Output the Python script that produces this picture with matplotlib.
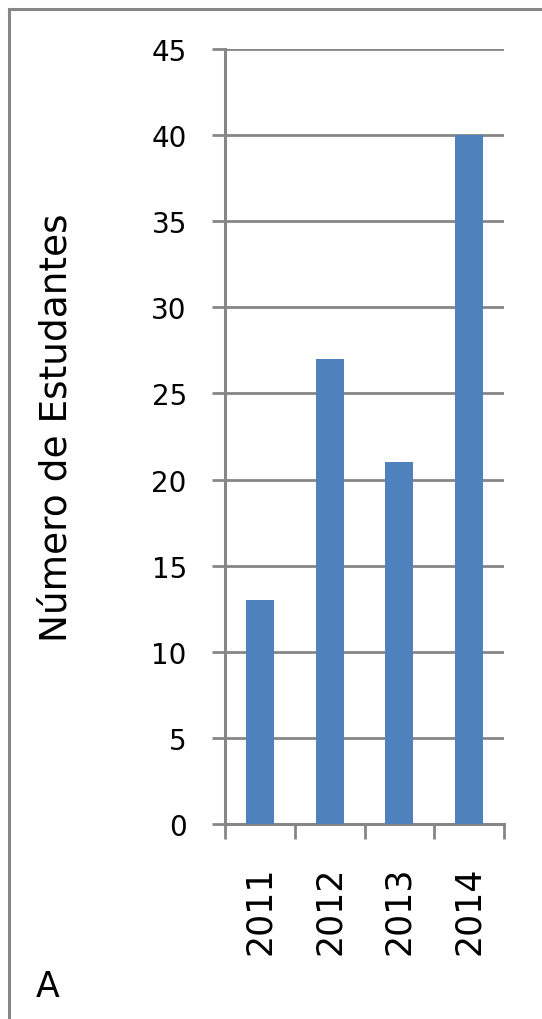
import matplotlib

matplotlib.use("Agg")
import matplotlib.pyplot as plt
from matplotlib.lines import Line2D

# data
anos = ["2011", "2012", "2013", "2014"]
estudantes = [13, 27, 21, 40]
y_ticks = [0, 5, 10, 15, 20, 25, 30, 35, 40, 45]

bar_color = "#4F81BD"
gray = "#868686"

plt.rcParams["font.family"] = ["DejaVu Sans"]

fig = plt.figure(figsize=(5.42, 10.2), dpi=100)
fig.patch.set_facecolor("white")

# plot area in pixel terms: x 225..504, y 50..825 (of 542x1020)
ax = fig.add_axes([225 / 542, 195 / 1020, 279 / 542, 775 / 1020])

x = list(range(len(anos)))
ax.bar(x, estudantes, width=0.4, color=bar_color, zorder=3)

ax.set_xlim(-0.5, len(anos) - 0.5)
ax.set_ylim(0, 45)
ax.set_yticks(y_ticks)
ax.set_yticklabels([str(v) for v in y_ticks])

# category ticks sit between the bars, labels centred under the bars
ax.set_xticks([i - 0.5 for i in range(len(anos) + 1)])
ax.set_xticklabels([])
ax.set_xticks(x, minor=True)
ax.set_xticklabels(anos, minor=True, rotation=90, fontsize=25)
ax.tick_params(axis="x", which="minor", length=0, pad=30)
ax.tick_params(axis="x", which="major", length=11, width=2, color=gray)

ax.tick_params(axis="y", length=9.5, width=2, color=gray, labelsize=20, pad=18)

ax.grid(True, axis="y", color=gray, linewidth=2, zorder=0)

for side in ["top", "right"]:
    ax.spines[side].set_visible(False)
for side in ["left", "bottom"]:
    ax.spines[side].set_color(gray)
    ax.spines[side].set_linewidth(2.2)

ax.set_ylabel("Número de Estudantes", fontsize=27)
ax.yaxis.set_label_coords((57 - 225) / 279, (825 - 428) / 775)
ax.yaxis.label.set_va("center")

# outer frame: only the top and left edges show
fig.add_artist(Line2D([9 / 542, 9 / 542], [0, 1 - 10 / 1020], transform=fig.transFigure,
                      color=gray, linewidth=2.2))
fig.add_artist(Line2D([9 / 542, 1], [1 - 10 / 1020, 1 - 10 / 1020], transform=fig.transFigure,
                      color=gray, linewidth=2.2))

fig.text(48 / 542, 1 - 997 / 1020, "A", fontsize=25, ha="center", va="baseline")

plt.savefig("out.png", dpi=100, facecolor="white")
plt.close()
